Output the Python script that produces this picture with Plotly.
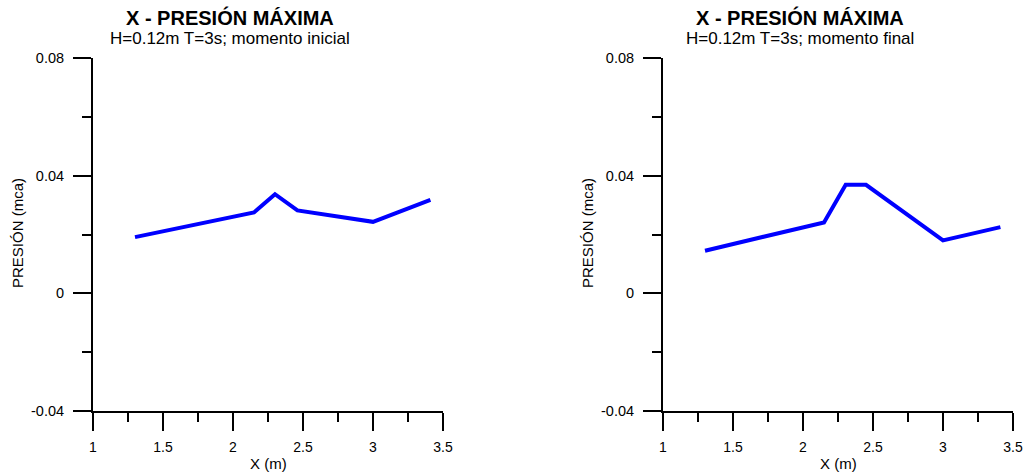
import plotly.graph_objects as go

# Data
x_inicial = [1.30, 2.15, 2.30, 2.46, 3.00, 3.41]
p_inicial = [0.0191, 0.0275, 0.0337, 0.0282, 0.0243, 0.0318]
x_final = [1.30, 2.15, 2.305, 2.45, 3.00, 3.41]
p_final = [0.0145, 0.0241, 0.0369, 0.0369, 0.0180, 0.0225]

y_tickvals = [-0.04, 0, 0.04, 0.08]
y_ticktext = ["-0.04", "0", "0.04", "0.08"]
x_tickvals = [1, 1.5, 2, 2.5, 3, 3.5]
x_ticktext = ["1", "1.5", "2", "2.5", "3", "3.5"]

title_main = "X - PRESIÓN MÁXIMA"
subtitles = ["H=0.12m T=3s; momento inicial", "H=0.12m T=3s; momento final"]
x_title = "X (m)"
y_title = "PRESIÓN (mca)"

W, H = 1029, 474
FONT = "Arial, 'Liberation Sans', sans-serif"

fig = go.Figure()
fig.add_trace(go.Scatter(x=x_inicial, y=p_inicial, mode="lines",
                         line=dict(color="#0000ff", width=4), xaxis="x", yaxis="y",
                         showlegend=False))
fig.add_trace(go.Scatter(x=x_final, y=p_final, mode="lines",
                         line=dict(color="#0000ff", width=4), xaxis="x2", yaxis="y2",
                         showlegend=False))

def px(v):
    return v / W

def py(v):
    return 1 - v / H

ydom = [py(411), py(58)]

xcommon = dict(range=[1, 3.5], tickvals=x_tickvals, ticktext=x_ticktext,
               showgrid=False, zeroline=False, automargin=False,
               showline=True, linecolor="black", linewidth=2,
               ticks="outside", ticklen=18, tickwidth=2, tickcolor="black",
               tickfont=dict(family=FONT, size=14, color="black"),
               ticklabelstandoff=4,
               minor=dict(ticks="outside", ticklen=9, tickwidth=2, tickcolor="black",
                          dtick=0.25, tick0=1, showgrid=False))
ycommon = dict(range=[-0.04, 0.08], tickvals=y_tickvals, ticktext=y_ticktext,
               showgrid=False, zeroline=False, automargin=False,
               showline=True, linecolor="black", linewidth=2,
               ticks="outside", ticklen=18, tickwidth=2, tickcolor="black",
               tickfont=dict(family=FONT, size=14.5, color="black"),
               ticklabelstandoff=6,
               minor=dict(ticks="outside", ticklen=9, tickwidth=2, tickcolor="black",
                          dtick=0.02, tick0=0, showgrid=False))

fig.update_layout(
    width=W, height=H,
    margin=dict(l=0, r=0, t=0, b=0),
    paper_bgcolor="white", plot_bgcolor="white",
    hovermode=False,
    xaxis=dict(domain=[px(93), px(443)], anchor="y", **xcommon),
    yaxis=dict(domain=ydom, anchor="x", **ycommon),
    xaxis2=dict(domain=[px(663), px(1013)], anchor="y2", **xcommon),
    yaxis2=dict(domain=ydom, anchor="x2", **ycommon),
)

annotations = []
for cx_title, cx_axis, ylab_x, sub in [(230, 268, 17, subtitles[0]), (800, 838, 587, subtitles[1])]:
    annotations.append(dict(text="<b>" + title_main + "</b>", x=px(cx_title), y=py(17),
                            xref="paper", yref="paper", showarrow=False,
                            xanchor="center", yanchor="middle",
                            font=dict(family=FONT, size=20, color="black")))
    annotations.append(dict(text=sub, x=px(cx_title), y=py(38),
                            xref="paper", yref="paper", showarrow=False,
                            xanchor="center", yanchor="middle",
                            font=dict(family=FONT, size=17, color="black")))
    annotations.append(dict(text=x_title, x=px(cx_axis), y=py(463),
                            xref="paper", yref="paper", showarrow=False,
                            xanchor="center", yanchor="middle",
                            font=dict(family=FONT, size=15, color="black")))
    annotations.append(dict(text=y_title, x=px(ylab_x), y=py(233),
                            xref="paper", yref="paper", showarrow=False,
                            xanchor="center", yanchor="middle", textangle=-90,
                            font=dict(family=FONT, size=15, color="black")))
fig.update_layout(annotations=annotations)

# remove the browser's default 8px page margin so the figure fills the window exactly
fig.write_html("out.html",
               config={"displayModeBar": False, "staticPlot": True},
               post_script="document.body.style.margin='0';document.body.style.overflow='hidden';")
